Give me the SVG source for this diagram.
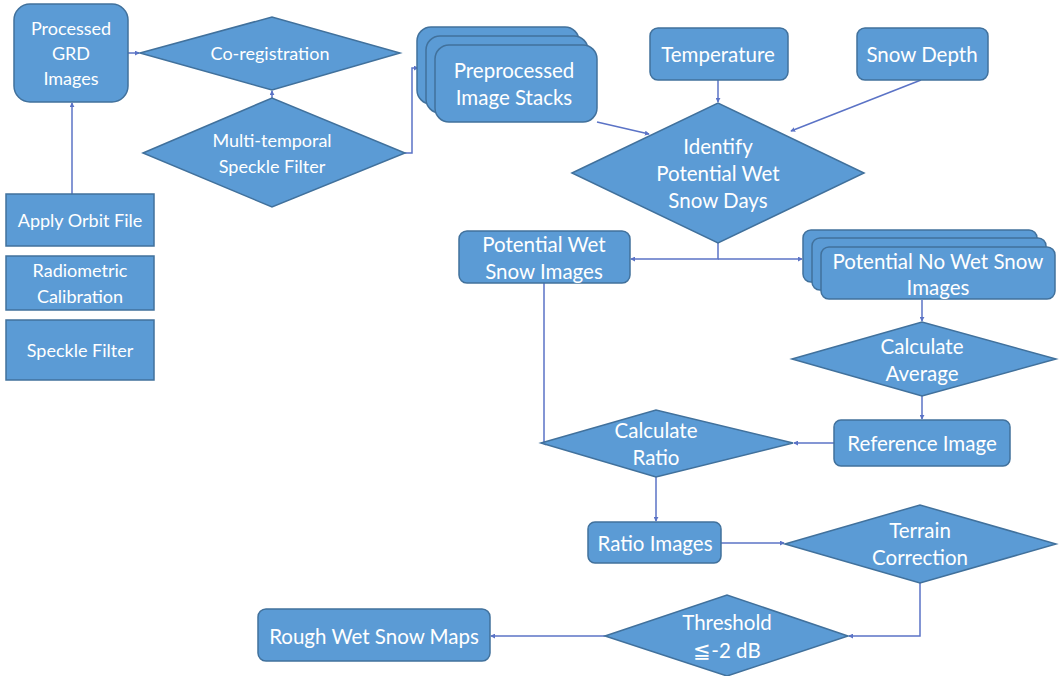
<svg xmlns="http://www.w3.org/2000/svg" width="1062" height="676" viewBox="0 0 1062 676">
<defs>
<style>
.n{fill:#5b9bd5;stroke:#41719c;stroke-width:1.5}
.t{fill:#ffffff;font-family:Lato,"Liberation Sans",sans-serif;font-size:18px;text-anchor:middle;dominant-baseline:central}
.b{font-size:20.5px}
.c{fill:none;stroke:#5b73c6;stroke-width:1.5}
</style>
<marker id="a" viewBox="0 0 6 6" refX="5" refY="3" markerWidth="5" markerHeight="5" orient="auto" markerUnits="userSpaceOnUse">
<path d="M0,0 L6,3 L0,6 z" fill="#5b73c6"/>
</marker>
</defs>
<rect width="1062" height="676" fill="#ffffff"/>
<g id="connectors">
<path class="c" d="M128,53 H139" marker-end="url(#a)"/>
<path class="c" d="M272,98 V91" marker-end="url(#a)"/>
<path class="c" d="M405,153 H412 V68 H418" marker-end="url(#a)"/>
<path class="c" d="M72,194 V103" marker-end="url(#a)"/>
<path class="c" d="M718,80 V102" marker-end="url(#a)"/>
<path class="c" d="M921,80 L791,131" marker-end="url(#a)"/>
<path class="c" d="M597,122 L649,134" marker-end="url(#a)"/>
<path class="c" d="M718,243 V259 H631" marker-end="url(#a)"/>
<path class="c" d="M718,259 H802" marker-end="url(#a)"/>
<path class="c" d="M922,300 V321" marker-end="url(#a)"/>
<path class="c" d="M922,396 V419" marker-end="url(#a)"/>
<path class="c" d="M834,443 H794" marker-end="url(#a)"/>
<path class="c" d="M544,283 V443 H542" marker-end="url(#a)"/>
<path class="c" d="M656,477 V521" marker-end="url(#a)"/>
<path class="c" d="M721,543 H784" marker-end="url(#a)"/>
<path class="c" d="M920,583 V636 H849" marker-end="url(#a)"/>
<path class="c" d="M605,636 H491" marker-end="url(#a)"/>
</g>
<g id="processed-grd">
<rect class="n" x="14" y="4" width="114" height="98" rx="16"/>
<text class="t" x="71" y="28">Processed</text>
<text class="t" x="71" y="53">GRD</text>
<text class="t" x="71" y="78">Images</text>
</g>
<g id="co-registration">
<polygon class="n" points="140,53 272,17 400,53 272,90"/>
<text class="t" x="270" y="53">Co-registration</text>
</g>
<g id="multi-temporal">
<polygon class="n" points="143,153 272,98 405,153 272,207"/>
<text class="t" x="272" y="140">Multi-temporal</text>
<text class="t" x="272" y="166">Speckle Filter</text>
</g>
<g id="apply-orbit">
<rect class="n" x="6" y="194" width="148" height="52"/>
<text class="t" x="80" y="220">Apply Orbit File</text>
</g>
<g id="radiometric">
<rect class="n" x="6" y="256" width="148" height="54"/>
<text class="t" x="80" y="270">Radiometric</text>
<text class="t" x="80" y="296">Calibration</text>
</g>
<g id="speckle">
<rect class="n" x="6" y="320" width="148" height="60"/>
<text class="t" x="80" y="350">Speckle Filter</text>
</g>
<g id="preprocessed-stacks">
<rect class="n" x="417" y="27" width="162" height="77" rx="14"/>
<rect class="n" x="426" y="36" width="162" height="77" rx="14"/>
<rect class="n" x="435" y="45" width="162" height="77" rx="14"/>
<text class="t b" x="514" y="70">Preprocessed</text>
<text class="t b" x="514" y="97">Image Stacks</text>
</g>
<g id="temperature">
<rect class="n" x="650" y="28" width="138" height="52" rx="8"/>
<text class="t b" x="718" y="54">Temperature</text>
</g>
<g id="snow-depth">
<rect class="n" x="857" y="28" width="131" height="52" rx="8"/>
<text class="t b" x="922" y="54">Snow Depth</text>
</g>
<g id="identify">
<polygon class="n" points="572,173 718,103 864,173 718,243"/>
<text class="t b" x="718" y="146">Identify</text>
<text class="t b" x="718" y="173">Potential Wet</text>
<text class="t b" x="718" y="200">Snow Days</text>
</g>
<g id="potential-wet">
<rect class="n" x="459" y="231" width="171" height="52" rx="8"/>
<text class="t b" x="544" y="244">Potential Wet</text>
<text class="t b" x="544" y="271">Snow Images</text>
</g>
<g id="potential-no-wet">
<rect class="n" x="803" y="230" width="234" height="52" rx="8"/>
<rect class="n" x="812" y="238" width="234" height="52" rx="8"/>
<rect class="n" x="821" y="247" width="234" height="52" rx="8"/>
<text class="t b" x="938" y="261">Potential No Wet Snow</text>
<text class="t b" x="938" y="287">Images</text>
</g>
<g id="calculate-average">
<polygon class="n" points="792,359 922,322 1056,359 922,396"/>
<text class="t b" x="922" y="346">Calculate</text>
<text class="t b" x="922" y="373">Average</text>
</g>
<g id="reference-image">
<rect class="n" x="834" y="420" width="176" height="46" rx="7"/>
<text class="t b" x="922" y="443">Reference Image</text>
</g>
<g id="calculate-ratio">
<polygon class="n" points="541,443 656,410 793,443 656,477"/>
<text class="t b" x="656" y="430">Calculate</text>
<text class="t b" x="656" y="457">Ratio</text>
</g>
<g id="ratio-images">
<rect class="n" x="588" y="522" width="133" height="41" rx="7"/>
<text class="t b" x="655" y="543">Ratio Images</text>
</g>
<g id="terrain-correction">
<polygon class="n" points="785,544 920,505 1056,544 920,583"/>
<text class="t b" x="920" y="530">Terrain</text>
<text class="t b" x="920" y="557">Correction</text>
</g>
<g id="threshold">
<polygon class="n" points="605,636 727,595 848,636 727,676"/>
<text class="t b" x="727" y="622">Threshold</text>
<text class="t b" x="727" y="650">≦-2 dB</text>
</g>
<g id="rough-maps">
<rect class="n" x="258" y="609" width="232" height="52" rx="8"/>
<text class="t b" x="374" y="636">Rough Wet Snow Maps</text>
</g>
</svg>
